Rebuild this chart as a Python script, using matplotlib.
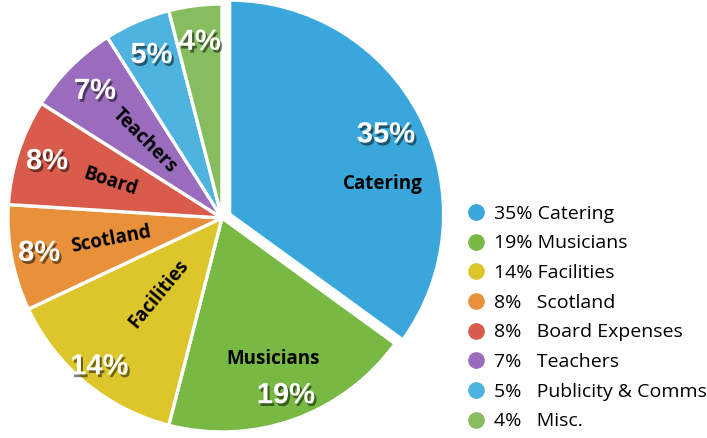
import matplotlib
matplotlib.use("Agg")
import matplotlib.pyplot as plt
import matplotlib.patheffects as pe
from matplotlib.lines import Line2D
import numpy as np

categories = ["Catering", "Musicians", "Facilities", "Scotland",
              "Board Expenses", "Teachers", "Publicity & Comms", "Misc."]
shares = [35, 19, 14, 8, 8, 7, 5, 4]
slice_names = ["Catering", "Musicians", "Facilities", "Scotland",
               "Board", "Teachers", "", ""]
colors = ["#3aa7dc", "#78b944", "#dcc62c", "#e8913a",
          "#d95b4b", "#9a6cbd", "#4fb3df", "#86bd5e"]

# label placement per slice (style only)
pct_r = [0.82, 0.88, 0.90, 0.87, 0.86, 0.84, 0.83, 0.83]
name_r = [0.73, 0.70, 0.46, 0.53, 0.55, 0.51, 0.5, 0.5]
name_dtheta = [-16, 0, 0, 0, 0, 0, 0, 0]
name_radial = [False, False, True, True, True, True, True, True]
explode = [0.04, 0, 0, 0, 0, 0, 0, 0]

W, H = 707, 438
fig = plt.figure(figsize=(W / 100, H / 100), dpi=100)
R = 214
cx, cy = 222, 438 - 218
half = 1.1 * R
ax = fig.add_axes([(cx - half) / W, (cy - half) / H, 2 * half / W, 2 * half / H])

wedges, _ = ax.pie(shares, colors=colors, startangle=90, counterclock=False,
                   explode=explode,
                   wedgeprops=dict(edgecolor="white", linewidth=2.4))
ax.set_xlim(-1.1, 1.1)
ax.set_ylim(-1.1, 1.1)
ax.set_aspect("equal")
ax.axis("off")

shadow = [pe.SimplePatchShadow(offset=(1.5, -2), shadow_rgbFace="black", alpha=0.5),
          pe.Normal()]

for i, w in enumerate(wedges):
    mid = (w.theta1 + w.theta2) / 2
    ox, oy = w.center
    t = np.deg2rad(mid)
    ax.text(ox + pct_r[i] * np.cos(t), oy + pct_r[i] * np.sin(t), f"{shares[i]}%",
            ha="center", va="center", color="white", fontsize=21,
            fontweight="bold", family="Liberation Sans", path_effects=shadow)
    if slice_names[i]:
        tn = np.deg2rad(mid + name_dtheta[i])
        rot = mid + 180 if name_radial[i] else 0
        ax.text(ox + name_r[i] * np.cos(tn), oy + name_r[i] * np.sin(tn), slice_names[i],
                ha="center", va="center", color="black", fontsize=13.5,
                fontweight="bold", family="Open Sans", rotation=rot,
                rotation_mode="anchor")

labels = []
for s, c in zip(shares, categories):
    labels.append(f"{s}% {c}" if s >= 10 else f"{s}%   {c}")
handles = [Line2D([], [], marker="o", linestyle="", markersize=11,
                  markerfacecolor=col, markeredgecolor=col) for col in colors]
fig.legend(handles, labels, loc="upper left", bbox_to_anchor=(452 / W, 1 - 195 / H),
           frameon=False, prop=dict(family="Open Sans", size=14),
           handletextpad=0.15, labelspacing=0.6, borderpad=0, handlelength=1.5)

fig.savefig("out.png", dpi=100)
